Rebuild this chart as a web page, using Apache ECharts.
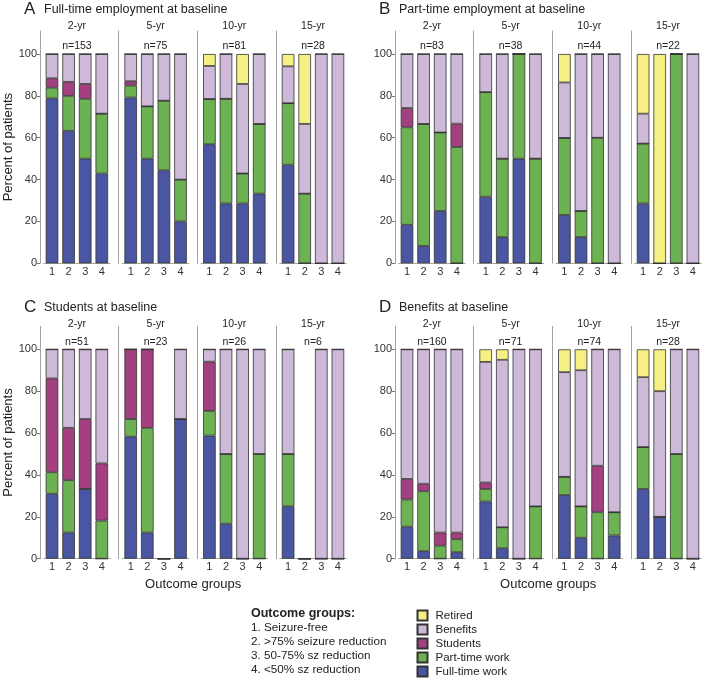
<!DOCTYPE html>
<html>
<head>
<meta charset="utf-8">
<script src="https://cdn.jsdelivr.net/npm/echarts@6/dist/echarts.min.js"></script>
<style>
html,body{margin:0;padding:0;background:#fff;}
#chart{width:707px;height:678px;}
</style>
</head>
<body>
<div id="chart"></div>
<script>
// ---------- DATA ----------
const periods = ['2-yr', '5-yr', '10-yr', '15-yr'];
const groups = ['1', '2', '3', '4'];
const seriesNames = ['Full-time work', 'Part-time work', 'Students', 'Benefits', 'Retired'];
const panelLetters = ['A', 'B', 'C', 'D'];
const panelTitles = ['Full-time employment at baseline', 'Part-time employment at baseline', 'Students at baseline', 'Benefits at baseline'];
const yTicks = [0, 20, 40, 60, 80, 100];
const outcomeLegendTitle = 'Outcome groups:';
const outcomeLegendItems = ['1. Seizure-free', '2. >75% seizure reduction', '3. 50-75% sz reduction', '4. <50% sz reduction'];
const xAxisTitle = 'Outcome groups';
const yAxisTitle = 'Percent of patients';

// Panel A: Full-time employment at baseline (rows = periods, cols = outcome groups 1-4)
const A_n = [153, 75, 81, 28];
const A_fullTime = [[78.8, 63.3, 50.0, 42.9], [79.2, 50.0, 44.4, 20.0], [56.9, 28.6, 28.6, 33.3], [47.1, 0, 0, 0]];
const A_partTime = [[5.1, 16.7, 28.6, 28.6], [5.7, 25.0, 33.3, 20.0], [21.6, 50.0, 14.3, 33.3], [29.4, 33.3, 0, 0]];
const A_students = [[4.5, 6.7, 7.1, 0], [2.1, 0, 0, 0], [0, 0, 0, 0], [0, 0, 0, 0]];
const A_benefits = [[11.6, 13.3, 14.3, 28.5], [13.0, 25.0, 22.3, 60.0], [15.8, 21.4, 42.8, 33.4], [17.6, 33.3, 100, 100]];
const A_retired = [[0, 0, 0, 0], [0, 0, 0, 0], [5.7, 0, 14.3, 0], [5.9, 33.4, 0, 0]];

// Panel B: Part-time employment at baseline
const B_n = [83, 38, 44, 22];
const B_fullTime = [[18.4, 8.3, 25.0, 0], [31.8, 12.5, 50.0, 0], [23.1, 12.5, 0, 0], [28.6, 0, 0, 0]];
const B_partTime = [[46.6, 58.3, 37.5, 55.6], [50.0, 37.5, 50.0, 50.0], [36.8, 12.5, 60.0, 0], [28.6, 0, 100, 0]];
const B_students = [[9.2, 0, 0, 11.1], [0, 0, 0, 0], [0, 0, 0, 0], [0, 0, 0, 0]];
const B_benefits = [[25.8, 33.4, 37.5, 33.3], [18.2, 50.0, 0, 50.0], [26.5, 75.0, 40.0, 100], [14.3, 0, 0, 100]];
const B_retired = [[0, 0, 0, 0], [0, 0, 0, 0], [13.6, 0, 0, 0], [28.5, 100, 0, 0]];

// Panel C: Students at baseline
const C_n = [51, 23, 26, 6];
const C_fullTime = [[31.0, 12.5, 33.3, 0], [58.3, 12.5, 0, 66.7], [58.8, 16.7, 0, 0], [25.0, 0, 0, 0]];
const C_partTime = [[10.3, 25.0, 0, 18.2], [8.4, 50.0, 0, 0], [11.8, 33.3, 0, 50.0], [25.0, 0, 0, 0]];
const C_students = [[44.8, 25.0, 33.4, 27.3], [33.3, 37.5, 0, 0], [23.5, 0, 0, 0], [0, 0, 0, 0]];
const C_benefits = [[13.9, 37.5, 33.3, 54.5], [0, 0, 0, 33.3], [5.9, 50.0, 100, 50.0], [50.0, 0, 100, 100]];
const C_retired = [[0, 0, 0, 0], [0, 0, 0, 0], [0, 0, 0, 0], [0, 0, 0, 0]];

// Panel D: Benefits at baseline
const D_n = [160, 71, 74, 28];
const D_fullTime = [[15.3, 3.6, 0, 3.1], [27.3, 5.0, 0, 0], [30.4, 10.0, 0, 11.1], [33.3, 20.0, 0, 0]];
const D_partTime = [[13.0, 28.6, 6.2, 6.2], [6.0, 10.0, 0, 25.0], [8.7, 15.0, 22.2, 11.1], [20.0, 0, 50.0, 0]];
const D_students = [[9.8, 3.6, 6.3, 3.2], [3.1, 0, 0, 0], [0, 0, 22.2, 0], [0, 0, 0, 0]];
const D_benefits = [[61.9, 64.2, 87.5, 87.5], [57.6, 80.0, 100, 75.0], [50.0, 65.0, 55.6, 77.8], [33.4, 60.0, 50.0, 100]];
const D_retired = [[0, 0, 0, 0], [6.0, 5.0, 0, 0], [10.9, 10.0, 0, 0], [13.3, 20.0, 0, 0]];

// ---------- STYLE / LAYOUT ----------
const FONT = "'Liberation Sans', Arial, Helvetica, sans-serif";
const colors = ['#4b56a3', '#6cb152', '#a3407f', '#cfb9d9', '#f5ef84'];
const AXIS_GRAY = '#a3a3a3';
const TEXT = '#222';
const SUB_STEP = 78.7;
const AX_PAD = 3.7;
const GRID_W = 66.4;
const Y_MAX = 111;
const panelLayout = [
  { sepX: 40, top: 31.0, zeroY: 263.3, letterY: 9, periodY: 26.3, nY: 46.3, showYName: true, showXName: false },
  { sepX: 395, top: 31.0, zeroY: 263.3, letterY: 9, periodY: 26.3, nY: 46.3, showYName: false, showXName: false },
  { sepX: 40, top: 326.3, zeroY: 558.7, letterY: 307, periodY: 324.5, nY: 342, showYName: true, showXName: true },
  { sepX: 395, top: 326.3, zeroY: 558.7, letterY: 307, periodY: 324.5, nY: 342, showYName: false, showXName: true }
];

const panelData = [
  [A_fullTime, A_partTime, A_students, A_benefits, A_retired],
  [B_fullTime, B_partTime, B_students, B_benefits, B_retired],
  [C_fullTime, C_partTime, C_students, C_benefits, C_retired],
  [D_fullTime, D_partTime, D_students, D_benefits, D_retired]
];
const panelN = [A_n, B_n, C_n, D_n];

const grids = [], xAxes = [], yAxes = [], series = [], graphics = [];

panelLayout.forEach((L, p) => {
  graphics.push({ type: 'text', x: L.sepX - 16, y: L.letterY, style: { text: panelLetters[p], font: '17px ' + FONT, fill: TEXT, textVerticalAlign: 'middle' } });
  graphics.push({ type: 'text', x: L.sepX + 4, y: L.letterY + 0.5, style: { text: panelTitles[p], font: '12.5px ' + FONT, fill: TEXT, textVerticalAlign: 'middle' } });
  for (let k = 0; k < 4; k++) {
    const gi = p * 4 + k;
    const left = L.sepX + k * SUB_STEP + AX_PAD;
    grids.push({ left: left, top: L.top, width: GRID_W, height: L.zeroY - L.top, containLabel: false });
    const cx = left + GRID_W / 2;
    graphics.push({ type: 'text', x: cx, y: L.periodY, style: { text: periods[k], font: '10.5px ' + FONT, fill: TEXT, textAlign: 'center', textVerticalAlign: 'middle' } });
    graphics.push({ type: 'text', x: cx, y: L.nY, style: { text: 'n=' + panelN[p][k], font: '10.5px ' + FONT, fill: TEXT, textAlign: 'center', textVerticalAlign: 'middle' } });
    xAxes.push({
      gridIndex: gi, type: 'category', data: groups,
      axisLine: { lineStyle: { color: AXIS_GRAY, width: 1 } },
      axisTick: { alignWithLabel: true, length: 3, lineStyle: { color: '#777' } },
      axisLabel: { fontSize: 11, margin: 3, color: '#333', fontFamily: FONT }
    });
    yAxes.push({
      gridIndex: gi, type: 'value', min: 0, max: Y_MAX, interval: 20, offset: AX_PAD,
      axisLine: { show: true, lineStyle: { color: AXIS_GRAY, width: 1 } },
      axisTick: { show: k === 0, length: 3, customValues: yTicks, lineStyle: { color: '#777' } },
      axisLabel: { show: k === 0, customValues: yTicks, fontSize: 11, margin: 3, color: '#333', fontFamily: FONT },
      splitLine: { show: false },
      name: (k === 0 && L.showYName) ? yAxisTitle : '',
      nameLocation: 'middle', nameGap: 22,
      nameTextStyle: { fontSize: 13, color: TEXT, fontFamily: FONT }
    });
    seriesNames.forEach((nm, s) => {
      series.push({
        type: 'bar', name: nm, xAxisIndex: gi, yAxisIndex: gi, stack: 'st' + gi,
        barWidth: 12.6, data: panelData[p][s][k],
        itemStyle: { color: colors[s], borderColor: '#333', borderWidth: 0.8 },
        emphasis: { disabled: true }, silent: true
      });
    });
  }
  if (L.showXName) {
    const cx = (L.sepX + 3 * SUB_STEP + AX_PAD + GRID_W + L.sepX) / 2;
    graphics.push({ type: 'text', x: cx, y: 584, style: { text: xAxisTitle, font: '13px ' + FONT, fill: TEXT, textAlign: 'center', textVerticalAlign: 'middle' } });
  }
});

graphics.push({ type: 'text', x: 251, y: 614, style: { text: outcomeLegendTitle, font: 'bold 12.5px ' + FONT, fill: TEXT, textVerticalAlign: 'middle' } });
outcomeLegendItems.forEach((t, i) => {
  graphics.push({ type: 'text', x: 251, y: 627.5 + i * 14, style: { text: t, font: '11.7px ' + FONT, fill: TEXT, textVerticalAlign: 'middle' } });
});

const option = {
  animation: false,
  backgroundColor: '#fff',
  textStyle: { fontFamily: FONT },
  grid: grids,
  xAxis: xAxes,
  yAxis: yAxes,
  series: series,
  legend: {
    data: seriesNames.slice().reverse(),
    orient: 'vertical', left: 416.5, top: 609.5, padding: 0,
    width: 120, height: 120,
    itemWidth: 10, itemHeight: 10, itemGap: 2,
    icon: 'rect', selectedMode: false,
    textStyle: { fontSize: 11.5, color: TEXT, fontFamily: FONT, padding: [0, 0, 0, 3] }
  },
  graphic: graphics
};

const chart = echarts.init(document.getElementById('chart'), null, { renderer: 'canvas' });
chart.setOption(option);
</script>
</body>
</html>
